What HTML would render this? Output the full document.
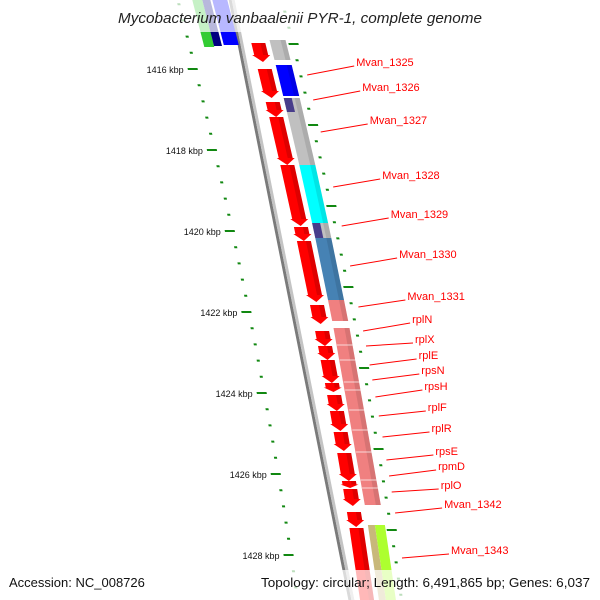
<!DOCTYPE html>
<html><head><meta charset="utf-8"><style>
html,body{margin:0;padding:0;background:#fff}
svg{display:block}
text{font-family:"Liberation Sans",sans-serif}
</style></head><body>
<svg id="map" width="600" height="600" viewBox="0 0 600 600" xmlns="http://www.w3.org/2000/svg">
<g id="rulers"></g>
<g id="backbone"></g>
<g id="genes"></g>
<g id="feats"></g>
<g id="labels"></g>
<rect x="0" y="0" width="600" height="32" fill="#fff" opacity="0.72"/>
<text x="300" y="23" text-anchor="middle" font-size="15" font-style="italic" fill="#222" textLength="364" lengthAdjust="spacingAndGlyphs">Mycobacterium vanbaalenii PYR-1, complete genome</text>
<rect x="0" y="570" width="600" height="30" fill="#fff" opacity="0.72"/>
<text x="9" y="587" font-size="13" fill="#111">Accession: NC_008726</text>
<text x="590" y="587" text-anchor="end" font-size="13" fill="#111" textLength="329" lengthAdjust="spacingAndGlyphs">Topology: circular; Length: 6,491,865 bp; Genes: 6,037</text>
</svg>
<script>
const geneStarts=[43,69,102,117,165,227,241,305,331,346,360,383,395,411,432,453,481,489,512,528];
const geneEnds=[62,98,117,165,226,241,302,324,346,360,383,392,411,431,451,481,488,506,527,610];
const featStarts=[40,65,98,165,223,238,300,328];
const featEnds=[60,96,165,223,238,300,321,505];
const featColors=['#c0c0c0','#0000ff','#c0c0c0','#00ffff','#c0c0c0','#4682b4','#f08080','#f08080'];
const rplSeparators=[345,360,382,390,410,430,452,480,488];
const labelNames=['Mvan_1325','Mvan_1326','Mvan_1327','Mvan_1328','Mvan_1329','Mvan_1330','Mvan_1331','rplN','rplX','rplE','rpsN','rpsH','rplF','rplR','rpsE','rpmD','rplO','Mvan_1342','Mvan_1343'];
const labelY=[62,87,120,175,214,254,296,319,339,355,370,386,407,428,451,466,485,504,550];
const labelAnchorY=[75,100,132,187,226,266,307,331,346,365,380,397,416,437,460,476,492,513,558];
const majorTickKbp=['1416 kbp','1418 kbp','1420 kbp','1422 kbp','1424 kbp','1426 kbp','1428 kbp'];
const NS='http://www.w3.org/2000/svg';
function cx(y){return 240+0.224*(y-30)-9.8e-5*(y-30)*(y-320);}
function mk(tag,attrs,parent){const e=document.createElementNS(NS,tag);for(const k in attrs)e.setAttribute(k,attrs[k]);parent.appendChild(e);return e;}
function quad(y1,y2,o1,o2){return [[cx(y1)+o1,y1],[cx(y1)+o2,y1],[cx(y2)+o2,y2],[cx(y2)+o1,y2]].map(p=>p[0].toFixed(1)+','+p[1]).join(' ');}
const R=document.getElementById('rulers'),B=document.getElementById('backbone'),G=document.getElementById('genes'),F=document.getElementById('feats'),L=document.getElementById('labels');
let bb1=mk('polygon',{points:quad(-10,610,-3,0),fill:'#7a7a7a'},B);


let bb2=mk('polygon',{points:quad(-10,610,0,3),fill:'#c4c4c4'},B);


[[0,47,-40,-30,'#33cc33'],[0,46,-30,-22,'#000080'],[0,45,-20,-5,'#0000ff']].forEach(f=>{
 const p=mk('polygon',{points:quad(f[0],f[1],f[2],f[3]),fill:f[4]},G);
 
 
});
const step=16.2;
for(let i=0;i<45;i++){
 const y=69-step*5+step*i; if(y<-5||y>605)continue;
 const major=(i%5===0);
 const d=mk('polygon',{points:major?quad(y-1,y+1,-62,-52):quad(y-1,y+1,-56,-53),fill:'#118811'},R);
 
 
}
majorTickKbp.forEach((t,k)=>{const y=69+81*k;
 const tx=mk('text',{x:(cx(y)-66).toFixed(1),y:y+4,'font-size':'9','text-anchor':'end',fill:'#111'},R);tx.textContent=t;
 
 
});
for(let i=0;i<45;i++){
 const y=44-step*5+step*i; if(y<-5||y>605)continue;
 const major=(i%5===0);
 const d=mk('polygon',{points:major?quad(y-1,y+1,45,55):quad(y-1,y+1,48,51),fill:'#118811'},R);
 
 
}
geneStarts.forEach((s,i)=>{const e=geneEnds[i];const h=Math.min(7,(e-s)*0.5);const m=e-h;
 const pts=[[cx(s)+8,s],[cx(s)+22,s],[cx(m)+22,m],[cx(m)+24,m],[cx(e)+15,e],[cx(m)+6,m],[cx(m)+8,m]].map(p=>p[0].toFixed(1)+','+p[1]).join(' ');
 const g=mk('polygon',{points:pts,fill:'#ff0000'},G);
 
 
 const sh=mk('polygon',{points:quad(s,m,17,22),fill:'#000',opacity:'0.13'},G);
 
 
});
featStarts.forEach((s,i)=>{const e=featEnds[i];
 const f=mk('polygon',{points:quad(s,e,27,43),fill:featColors[i]},F);
 
 
 const sh=mk('polygon',{points:quad(s,e,38,43),fill:'#000',opacity:'0.1'},F);
 
 
});
[[98,112],[223,238]].forEach(a=>{const f=mk('polygon',{points:quad(a[0],a[1],27,35),fill:'#483d8b'},F);
 
 });
rplSeparators.forEach(y=>{const l=mk('line',{x1:cx(y)+27,y1:y,x2:cx(y)+43,y2:y,stroke:'#fff','stroke-width':'1',opacity:'0.7'},F);
 
 });
[[525,610,27,34,'#c8b87a'],[525,610,34,44,'#adff2f']].forEach(f=>{const p=mk('polygon',{points:quad(f[0],f[1],f[2],f[3]),fill:f[4]},F);
 
 });
labelNames.forEach((n,i)=>{const ay=labelAnchorY[i],ty=labelY[i];const ax=cx(ay)+56;const tx0=ax+49;
 const l=mk('line',{x1:ax.toFixed(1),y1:ay,x2:(tx0-2).toFixed(1),y2:ty+4,stroke:'#ff0000','stroke-width':'1'},L);
 
 
 const t=mk('text',{x:tx0.toFixed(1),y:ty+4,'font-size':'11',fill:'#ff0000'},L);t.textContent=n;
 
 
});
</script>
</body></html>
